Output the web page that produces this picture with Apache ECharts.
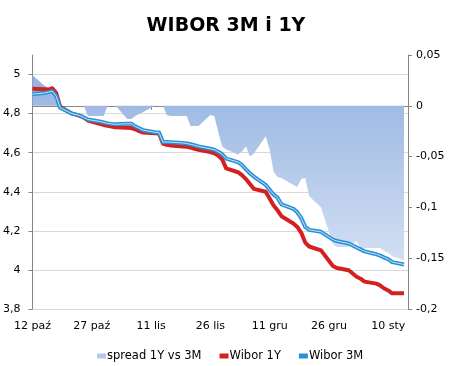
<!DOCTYPE html>
<html><head><meta charset="utf-8">
<script src="https://cdn.jsdelivr.net/npm/echarts@6/dist/echarts.min.js"></script>
<style>html,body{margin:0;padding:0;background:#fff}#c{width:452px;height:366px}</style>
</head><body><div id="c"></div>
<script>
// day offsets from 12 Oct (business days)
const days = [0,3,4,5,6,7,10,11,12,13,14,17,18,19,21,24,25,26,27,28,31,32,33,34,35,38,39,40,41,42,45,46,47,48,49,52,53,54,55,56,59,60,61,62,63,66,67,68,69,70,73,76,77,80,82,83,84,87,88,89,90,91,94];
const wibor3M = [4.90,4.905,4.91,4.915,4.89,4.83,4.80,4.795,4.79,4.78,4.77,4.76,4.755,4.75,4.745,4.748,4.748,4.735,4.725,4.715,4.705,4.703,4.655,4.655,4.654,4.65,4.647,4.643,4.638,4.632,4.62,4.615,4.605,4.592,4.57,4.552,4.537,4.515,4.495,4.478,4.435,4.41,4.385,4.37,4.335,4.313,4.295,4.265,4.22,4.205,4.195,4.155,4.148,4.135,4.115,4.105,4.095,4.08,4.073,4.063,4.055,4.04,4.028];
const wibor1Y = [4.927,4.925,4.922,4.93,4.905,4.835,4.80,4.795,4.788,4.78,4.765,4.748,4.742,4.738,4.73,4.728,4.726,4.72,4.71,4.703,4.70,4.698,4.647,4.64,4.637,4.632,4.63,4.626,4.62,4.615,4.603,4.597,4.585,4.565,4.52,4.50,4.485,4.465,4.44,4.415,4.40,4.365,4.33,4.305,4.275,4.238,4.22,4.19,4.14,4.12,4.10,4.02,4.01,3.998,3.965,3.955,3.94,3.93,3.92,3.905,3.895,3.88,3.881];
const spread = [0.03,0.02,0.018,0.017,0.015,0,0,0,0,0,-0.01,-0.01,-0.01,0,0,-0.013,-0.013,-0.01,-0.008,-0.006,0,0,0,-0.009,-0.01,-0.01,-0.01,-0.02,-0.02,-0.02,-0.009,-0.01,-0.026,-0.04,-0.043,-0.048,-0.045,-0.04,-0.05,-0.047,-0.03,-0.043,-0.065,-0.07,-0.071,-0.078,-0.08,-0.072,-0.071,-0.089,-0.1,-0.136,-0.139,-0.139,-0.133,-0.14,-0.14,-0.14,-0.14,-0.143,-0.145,-0.148,-0.152];
const tickLabels = ['12 paź','27 paź','11 lis','26 lis','11 gru','26 gru','10 sty'];

const pair = arr => days.map((d,i) => [d, arr[i]]);
const comma = v => String(Math.round(v*1000)/1000).replace('.', ',');
const FONT = 'DejaVu Sans';
const axisGray = '#868686';

const chart = echarts.init(document.getElementById('c'), null, {renderer:'canvas'});
chart.setOption({
  animation: false,
  backgroundColor: '#fff',
  textStyle: {fontFamily: FONT},
  title: {
    text: 'WIBOR 3M i 1Y', left: 'center', top: 12,
    textStyle: {fontFamily: FONT, fontWeight: 'bold', fontSize: 19, color: '#000'}
  },
  legend: {
    left: 92, top: 345, itemGap: 18, itemWidth: 9, itemHeight: 5,
    textStyle: {fontFamily: FONT, fontSize: 11.5, color: '#000', padding: [0, 0, 0, -4]},
    data: [
      {name: 'spread 1Y vs 3M', icon: 'rect', itemStyle: {color: '#b3c7e9'}},
      {name: 'Wibor 1Y', icon: 'rect', itemStyle: {color: '#d42020'}},
      {name: 'Wibor 3M', icon: 'rect', itemStyle: {color: '#2a90d6'}}
    ]
  },
  grid: {left: 31, right: 44, top: 55, bottom: 57, containLabel: false},
  xAxis: {
    type: 'value', min: 0, max: 95, interval: 15,
    axisLine: {show: true, lineStyle: {color: axisGray}},
    axisTick: {show: true, length: 4, lineStyle: {color: axisGray}},
    splitLine: {show: false},
    axisLabel: {
      margin: 12, fontFamily: FONT, fontSize: 11, color: '#000', showMaxLabel: false,
      formatter: v => (v % 15 === 0 ? (tickLabels[v/15] || '') : '')
    }
  },
  yAxis: [
    {
      type: 'value', min: 3.8, max: 5.1, interval: 0.2, position: 'left',
      axisLine: {show: true, lineStyle: {color: axisGray}},
      axisTick: {show: true, length: 4, lineStyle: {color: axisGray}},
      splitLine: {show: true, showMaxLine: false, lineStyle: {color: '#d9d9d9'}},
      axisLabel: {margin: 12, fontFamily: FONT, fontSize: 11, color: '#000', showMaxLabel: false, formatter: comma}
    },
    {
      type: 'value', min: -0.2, max: 0.05, interval: 0.05, position: 'right',
      axisLine: {show: true, lineStyle: {color: axisGray}},
      axisTick: {show: true, length: 4, lineStyle: {color: axisGray}},
      splitLine: {show: false},
      axisLabel: {margin: 8, fontFamily: FONT, fontSize: 11, color: '#000', formatter: comma}
    }
  ],
  series: [
    {
      name: 'spread 1Y vs 3M', type: 'line', yAxisIndex: 1, data: pair(spread),
      symbol: 'none', lineStyle: {width: 0}, z: 1,
      areaStyle: {
        opacity: 1, origin: 'auto',
        color: new echarts.graphic.LinearGradient(0, 0, 0, 1, [
          {offset: 0, color: '#96b3e0'}, {offset: 1, color: '#d2dff3'}
        ])
      }
    },
    {
      name: 'Wibor 1Y', type: 'line', yAxisIndex: 0, data: pair(wibor1Y),
      symbol: 'none', z: 3, lineStyle: {width: 4, color: '#d42020', join: 'round'}, itemStyle: {color: '#d42020'}
    },
    {
      name: 'Wibor 3M', type: 'line', yAxisIndex: 0, data: pair(wibor3M),
      symbol: 'none', z: 4, lineStyle: {width: 4, color: '#2a90d6', join: 'round'}, itemStyle: {color: '#2a90d6'}
    },
    {
      name: 'Wibor 3M', type: 'line', yAxisIndex: 0, data: pair(wibor3M),
      symbol: 'none', z: 5, silent: true, lineStyle: {width: 1, color: '#c4e4f8', join: 'round'}, itemStyle: {color: '#2a90d6'}
    }
  ]
});
</script></body></html>
